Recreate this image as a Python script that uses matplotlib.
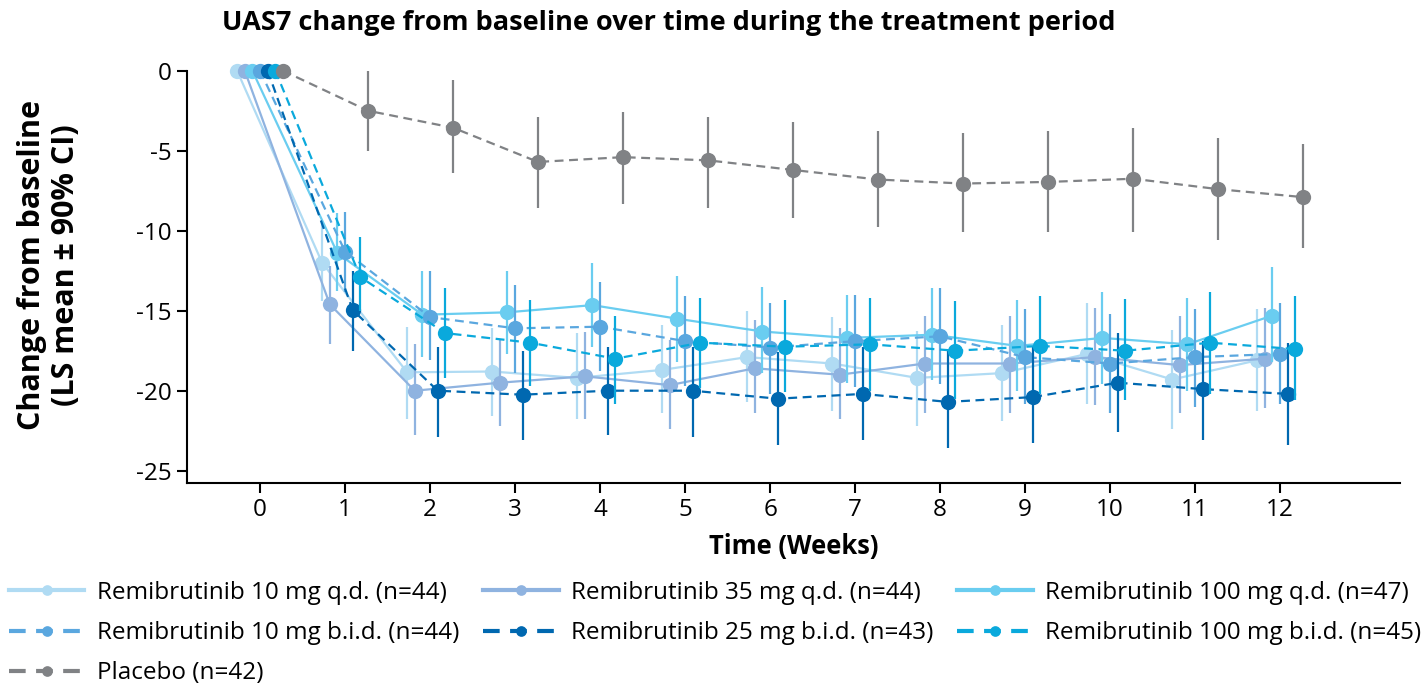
#! /usr/bin/env python

# import modules
import numpy
import matplotlib
matplotlib.use('Agg')
import matplotlib.pyplot

# Data
# --------------------------
weeks = [0, 1, 2, 3, 4, 5, 6, 7, 8, 9, 10, 11, 12]

labels = ['Remibrutinib 10 mg q.d. (n=44)', 'Remibrutinib 35 mg q.d. (n=44)',
          'Remibrutinib 100 mg q.d. (n=47)', 'Remibrutinib 10 mg b.i.d. (n=44)',
          'Remibrutinib 25 mg b.i.d. (n=43)', 'Remibrutinib 100 mg b.i.d. (n=45)',
          'Placebo (n=42)']

qd10_mean = [0, -12.0, -18.85, -18.8, -19.2, -18.7, -17.9, -18.3, -19.2, -18.9, -17.7, -19.3, -18.1]
qd10_lo = [0, -14.4, -21.8, -21.6, -21.8, -21.4, -20.7, -21.3, -22.2, -21.9, -20.8, -22.4, -21.3]
qd10_hi = [0, -9.5, -16.0, -16.1, -16.4, -15.9, -15.0, -15.4, -16.25, -15.9, -14.5, -16.2, -14.9]

qd35_mean = [0, -14.6, -20.0, -19.5, -19.1, -19.65, -18.6, -19.0, -18.3, -18.3, -17.9, -18.4, -18.0]
qd35_lo = [0, -17.1, -22.8, -22.2, -21.8, -22.4, -21.4, -21.8, -21.4, -21.4, -20.9, -21.4, -21.1]
qd35_hi = [0, -12.2, -17.1, -16.8, -16.3, -16.8, -15.6, -16.1, -15.3, -15.3, -14.8, -15.3, -14.8]

qd100_mean = [0, -11.4, -15.25, -15.1, -14.65, -15.5, -16.3, -16.7, -16.5, -17.2, -16.7, -17.1, -15.3]
qd100_lo = [0, -13.75, -17.9, -17.7, -17.25, -18.2, -18.9, -19.5, -19.3, -20.0, -19.6, -20.0, -18.2]
qd100_hi = [0, -8.9, -12.5, -12.5, -12.0, -12.8, -13.5, -14.0, -13.6, -14.3, -13.8, -14.2, -12.25]

bid10_mean = [0, -11.3, -15.4, -16.1, -16.0, -16.9, -17.3, -16.9, -16.6, -17.9, -18.3, -17.9, -17.7]
bid10_lo = [0, -13.8, -18.1, -18.9, -18.75, -19.7, -20.2, -19.75, -19.6, -20.8, -21.4, -21.0, -20.8]
bid10_hi = [0, -8.85, -12.5, -13.4, -13.2, -14.1, -14.5, -14.0, -13.6, -14.9, -15.2, -14.9, -14.5]

bid25_mean = [0, -14.96, -20.0, -20.25, -20.0, -20.0, -20.5, -20.2, -20.7, -20.4, -19.5, -19.9, -20.2]
bid25_lo = [0, -17.5, -22.9, -23.1, -22.8, -22.9, -23.4, -23.1, -23.6, -23.3, -22.6, -23.1, -23.4]
bid25_hi = [0, -12.5, -17.25, -17.5, -17.25, -17.25, -17.6, -17.25, -17.5, -17.2, -16.4, -16.9, -17.0]

bid100_mean = [0, -12.9, -16.4, -17.0, -18.0, -17.0, -17.25, -17.1, -17.5, -17.2, -17.5, -17.0, -17.4]
bid100_lo = [0, -15.0, -19.2, -19.7, -20.8, -19.8, -20.1, -20.0, -20.5, -20.2, -20.6, -20.2, -20.6]
bid100_hi = [0, -10.4, -13.6, -14.3, -15.3, -14.2, -14.3, -14.2, -14.4, -14.1, -14.25, -13.8, -14.1]

pbo_mean = [0, -2.5, -3.56, -5.7, -5.4, -5.6, -6.2, -6.8, -7.05, -6.95, -6.75, -7.4, -7.9]
pbo_lo = [0, -5.0, -6.4, -8.6, -8.3, -8.6, -9.2, -9.75, -10.1, -10.05, -10.05, -10.6, -11.1]
pbo_hi = [0, 0.0, -0.56, -2.9, -2.6, -2.9, -3.2, -3.75, -3.9, -3.75, -3.6, -4.2, -4.6]

# Styles
# ------
colors = ['#b0dbf3', '#8fb3e0', '#6acdf0', '#5aa7df', '#0068b0', '#0aa9dc', '#808285']
styles = ['-', '-', '-', '--', '--', '--', '--']
offsets = [-0.27, -0.18, -0.09, 0.0, 0.09, 0.18, 0.27]

series = [(qd10_mean, qd10_lo, qd10_hi), (qd35_mean, qd35_lo, qd35_hi),
          (qd100_mean, qd100_lo, qd100_hi), (bid10_mean, bid10_lo, bid10_hi),
          (bid25_mean, bid25_lo, bid25_hi), (bid100_mean, bid100_lo, bid100_hi),
          (pbo_mean, pbo_lo, pbo_hi)]

matplotlib.pyplot.rcParams['font.family'] = ['Open Sans', 'DejaVu Sans']

# Plot part
# ---------
fig = matplotlib.pyplot.figure(figsize=(14.22, 6.87), dpi=100)
ax = fig.add_axes([0.1313, 0.2974, 0.8532, 0.5996])

handles = []
for i, (mean, lo, hi) in enumerate(series):
    x = numpy.array(weeks) + offsets[i]
    mean = numpy.array(mean)
    yerr = [mean - numpy.array(lo), numpy.array(hi) - mean]
    ax.errorbar(x[1:], mean[1:], yerr=[yerr[0][1:], yerr[1][1:]], fmt='none',
                ecolor=colors[i], elinewidth=1.6, capsize=0, zorder=2 + i, clip_on=False)
    ln, = ax.plot(x, mean, linestyle=styles[i], color=colors[i], linewidth=1.6,
                  marker='o', markersize=11, markeredgewidth=0, zorder=2 + i,
                  clip_on=False, dashes=(4, 2.5) if styles[i] == '--' else (None, None))
    handles.append(ln)

ax.set_xlim(-0.863, 13.41)
ax.set_ylim(-25.75, 0)
ax.set_xticks(weeks)
ax.set_yticks([0, -5, -10, -15, -20, -25])
ax.set_yticklabels(['0', '-5', '-10', '-15', '-20', '-25'])
ax.spines['top'].set_visible(False)
ax.spines['right'].set_visible(False)
ax.spines['left'].set_linewidth(1.5)
ax.spines['bottom'].set_linewidth(1.5)
ax.tick_params(direction='out', length=7, width=1.5, labelsize=17.5, pad=4)

# Text
# ----
fig.text(0.47, 0.967, 'UAS7 change from baseline over time during the treatment period',
         ha='center', va='center', fontsize=19.5, fontweight='bold')
ax.set_xlabel('Time (Weeks)', fontsize=18.4, fontweight='bold', labelpad=8)
fig.text(0.0345, 0.614, 'Change from baseline\n(LS mean \u00b1 90% CI)', rotation=90,
         ha='center', va='center', fontsize=22, fontweight='bold', multialignment='center',
         linespacing=1.15)

# Legend
# ------
order = [0, 3, 6, 1, 4, 2, 5]
leg = fig.legend([handles[k] for k in order], [labels[k] for k in order],
                 loc='lower left', bbox_to_anchor=(0.005, 0.0), ncol=3, frameon=False,
                 fontsize=17.5, handlelength=3.1, handletextpad=0.5, columnspacing=1.0,
                 labelspacing=0.66, markerscale=0.7, borderpad=0.08, borderaxespad=0.0)
for ln in leg.get_lines():
    ln.set_linewidth(3)

fig.savefig('out.png', dpi=100)
